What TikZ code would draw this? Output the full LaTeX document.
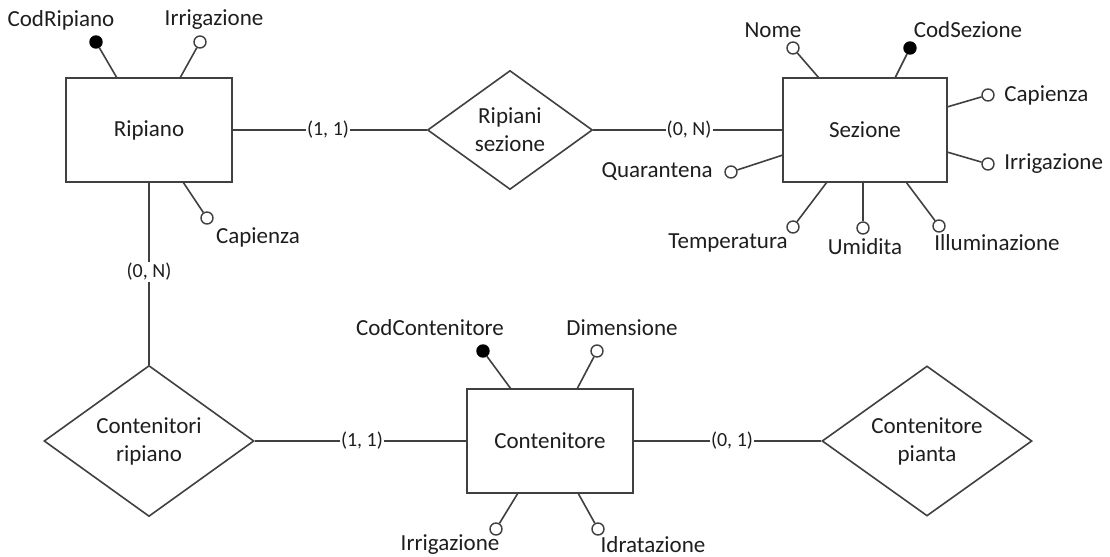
\documentclass[tikz,border=0pt]{standalone}
\usepackage{fontspec}
\setmainfont{Carlito}
\usetikzlibrary{shapes.geometric}
\definecolor{edgegray}{RGB}{64,64,64}
\definecolor{inkcol}{RGB}{30,30,30}
\begin{document}
\begin{tikzpicture}[x=0.5pt,y=-0.5pt,
  every node/.style={text=inkcol},
  entity/.style={draw=edgegray, line width=0.8pt, minimum width=83pt,
    minimum height=52pt, inner sep=0pt, fill=white,
    font=\fontsize{11.5}{14}\selectfont},
  relation/.style={diamond, draw=edgegray, line width=0.8pt, inner sep=0pt,
    align=center, fill=white, font=\fontsize{11.5}{14}\selectfont},
  link/.style={draw=edgegray, line width=0.8pt},
  card/.style={fill=white, inner sep=0.6pt, font=\fontsize{10}{11}\selectfont},
  attr/.style={circle, draw=edgegray, fill=white, line width=0.7pt,
    minimum size=6pt, inner sep=0pt},
  keyattr/.style={attr, fill=black, draw=black},
  lbl/.style={inner sep=0pt, font=\fontsize{11.5}{13}\selectfont}]

\useasboundingbox (0,0) rectangle (1110,557);

% entities
\node[entity, minimum width=83pt] (rip) at (149,130) {Ripiano};
\node[entity, minimum width=82pt] (sez) at (865,130) {Sezione};
\node[entity, minimum width=83pt] (cont) at (550,441) {Contenitore};

% relationships
\node[relation, aspect=1.39, minimum width=82.5pt, minimum height=59.5pt]
  (rs) at (510,130) {Ripiani\\sezione};
\node[relation, aspect=1.39, minimum width=105pt, minimum height=75.5pt]
  (cr) at (149,441) {Contenitori\\ripiano};
\node[relation, aspect=1.39, minimum width=105pt, minimum height=75pt]
  (cp) at (927,441) {Contenitore\\pianta};

% relationship links with cardinalities
\draw[link] (rip.east) -- node[card, pos=0.491] {(1, 1)} (rs.west);
\draw[link] (rs.east) -- node[card, pos=0.507] {(0, N)} (sez.west);
\draw[link] (rip.south) -- node[card, pos=0.49] {(0, N)} (cr.north);
\draw[link] (cr.east) -- node[card, pos=0.507] {(1, 1)} (cont.west);
\draw[link] (cont.east) -- node[card, pos=0.524] {(0, 1)} (cp.west);

% --- Ripiano attributes
\coordinate (rip-a) at (117,78);
\coordinate (rip-b) at (180,78);
\coordinate (rip-c) at (183,182);
\node[keyattr] (rip-ka) at (96,42) {};
\node[attr] (rip-kb) at (200,42) {};
\node[attr] (rip-kc) at (207,218) {};
\draw[link] (rip-a) -- (rip-ka);
\draw[link] (rip-b) -- (rip-kb);
\draw[link] (rip-c) -- (rip-kc);
\node[lbl] (rip-la) at (61,20) {CodRipiano};
\node[lbl] (rip-lb) at (214,20) {Irrigazione};
\node[lbl] (rip-lc) at (258,237) {Capienza};

% --- Sezione attributes
\coordinate (sez-a) at (819,78);
\coordinate (sez-b) at (895,78);
\coordinate (sez-c) at (947,107);
\coordinate (sez-d) at (947,152);
\coordinate (sez-e) at (783,155);
\coordinate (sez-f) at (827,182);
\coordinate (sez-g) at (863,182);
\coordinate (sez-h) at (906,182);
\node[attr] (sez-ka) at (793,48) {};
\node[keyattr] (sez-kb) at (910,48) {};
\node[attr] (sez-kc) at (988,95) {};
\node[attr] (sez-kd) at (988,164) {};
\node[attr] (sez-ke) at (731,172) {};
\node[attr] (sez-kf) at (793,227) {};
\node[attr] (sez-kg) at (863,228) {};
\node[attr] (sez-kh) at (939,226) {};
\foreach \s in {a,b,c,d,e,f,g,h}
  \draw[link] (sez-\s) -- (sez-k\s);
\node[lbl] (sez-la) at (773,30) {Nome};
\node[lbl] (sez-lb) at (968,30) {CodSezione};
\node[lbl, anchor=west] (sez-lc) at (1004,95) {Capienza};
\node[lbl, anchor=west] (sez-ld) at (1004,164) {Irrigazione};
\node[lbl, anchor=east] (sez-le) at (713,172) {Quarantena};
\node[lbl] (sez-lf) at (728,243) {Temperatura};
\node[lbl] (sez-lg) at (865,247) {Umidita};
\node[lbl] (sez-lh) at (997,243) {Illuminazione};

% --- Contenitore attributes
\coordinate (cont-a) at (511,389);
\coordinate (cont-b) at (577,389);
\coordinate (cont-c) at (518,493);
\coordinate (cont-d) at (578,493);
\node[keyattr] (cont-ka) at (483,351) {};
\node[attr] (cont-kb) at (597,351) {};
\node[attr] (cont-kc) at (496,529) {};
\node[attr] (cont-kd) at (598,529) {};
\foreach \s in {a,b,c,d}
  \draw[link] (cont-\s) -- (cont-k\s);
\node[lbl] (cont-la) at (430,328) {CodContenitore};
\node[lbl] (cont-lb) at (622,328) {Dimensione};
\node[lbl] (cont-lc) at (450,545) {Irrigazione};
\node[lbl] (cont-ld) at (653,545) {Idratazione};

\end{tikzpicture}
\end{document}
